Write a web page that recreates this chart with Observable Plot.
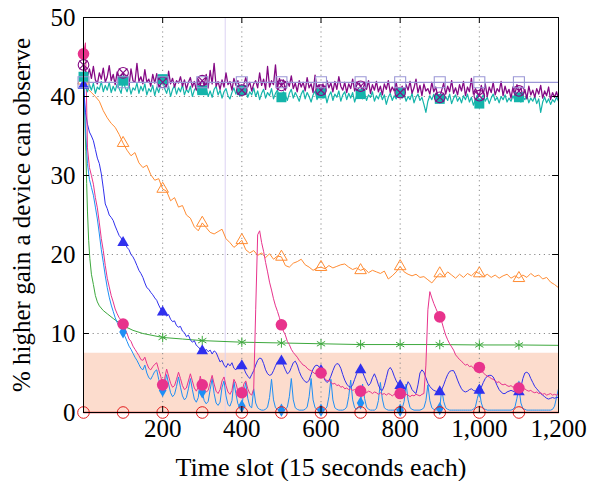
<!DOCTYPE html>
<html><head><meta charset="utf-8">
<script src="https://cdn.jsdelivr.net/npm/d3@7"></script>
<script src="https://cdn.jsdelivr.net/npm/@observablehq/plot@0.6"></script>
<style>body{margin:0;background:#fff}</style>
</head><body><div id="chart"></div>
<script>
// ---- data ----
const xTitle = "Time slot (15 seconds each)";
const yTitle = "% higher gain a device can observe";
const xTicks = [200, 400, 600, 800, 1000, 1200];
const yTicks = [0, 10, 20, 30, 40, 50];
const gridX = [200, 400, 600, 800, 1000];
const gridY = [10, 20, 30, 40];
const bandTop = [7.5];
const markerSlot = [358];

// sampled every 5 time slots (0..1200)
const purpleY = [
44.0,43.2,42.6,43.5,42.3,43.8,42.1,41.6,43.0,42.2,43.6,41.8,42.5,43.9,42.0,42.8,41.5,43.1,42.2,42.6,
43.0,42.0,42.7,41.4,43.5,42.0,41.8,44.2,41.9,42.5,41.6,43.4,41.8,42.2,41.3,42.8,41.7,42.9,41.5,42.4,
41.8,42.6,41.4,43.2,41.6,42.3,41.2,42.0,41.7,42.5,41.3,42.1,40.9,41.8,42.4,41.2,41.9,40.8,42.2,41.5,
42.0,41.4,42.8,41.1,43.3,41.6,44.2,41.3,41.9,40.9,42.1,41.2,43.0,41.5,41.9,40.8,42.3,41.4,42.0,41.0,
40.8,41.5,42.4,41.2,41.8,40.7,41.6,42.0,41.1,43.0,41.4,42.2,40.9,43.8,41.2,42.0,41.5,44.0,41.0,42.3,
41.4,42.1,40.8,41.9,41.3,42.6,41.0,41.7,40.6,42.0,41.2,41.8,40.7,42.4,41.1,41.6,40.5,42.7,41.0,41.5,
40.8,41.6,40.4,42.0,41.1,41.7,40.6,41.9,40.9,42.5,41.3,40.8,41.8,40.5,41.6,41.0,42.2,40.7,41.4,41.9,
41.3,40.6,41.7,40.9,42.0,40.4,41.5,40.8,41.9,40.6,41.3,40.2,41.6,40.9,42.0,40.5,41.2,40.7,41.8,40.3,
40.5,41.3,40.2,41.5,40.8,41.9,40.4,41.1,42.2,40.5,41.4,40.1,41.6,40.7,41.0,40.3,41.8,40.6,41.2,40.0,
39.9,40.8,41.7,40.3,41.3,40.6,42.0,40.4,41.1,40.2,41.5,40.7,41.9,40.1,41.2,40.6,42.3,40.3,41.0,40.5,
40.1,41.4,40.3,41.6,40.0,41.2,40.5,41.8,40.2,41.0,40.6,41.9,40.1,41.3,40.4,40.9,39.8,41.2,40.3,41.5,
40.7,41.1,40.0,40.9,39.7,41.3,40.2,40.8,39.9,41.0,40.3,41.4,39.8,40.7,40.1,41.2,39.6,40.5,39.9,40.6,
39.7];

const tealY = [
42.5,41.2,40.6,41.5,40.8,41.7,40.4,41.2,40.9,41.9,40.6,41.4,40.8,41.8,40.5,41.3,40.7,41.6,41.0,40.4,
42.0,41.2,40.6,41.5,40.3,41.1,40.8,41.7,40.4,41.3,40.7,41.6,40.2,41.0,40.6,41.4,40.1,41.2,40.5,41.5,
42.2,41.0,40.4,41.3,40.0,40.9,41.4,40.3,41.1,40.6,41.5,40.2,40.9,40.5,41.3,40.0,40.8,41.2,40.3,41.0,
40.8,40.4,41.1,40.0,40.7,39.9,40.9,41.3,40.2,40.8,39.8,40.6,41.0,40.1,39.7,40.5,41.1,40.3,40.9,40.0,
40.8,40.2,41.0,39.9,40.6,40.2,41.1,40.0,40.7,39.6,40.4,40.9,39.8,40.5,40.1,41.0,39.7,40.4,40.8,39.9,
39.9,40.6,40.2,39.5,40.4,40.9,39.8,40.5,40.0,39.4,40.3,40.8,39.7,40.5,40.0,39.3,40.2,40.7,39.6,40.4,
40.4,39.8,40.5,39.2,40.1,40.6,39.5,40.3,39.9,40.7,39.4,40.2,40.6,39.6,40.4,39.8,40.5,39.3,40.1,40.6,
40.3,39.7,40.4,39.5,40.2,39.9,40.6,39.4,40.1,39.7,40.5,39.6,40.2,39.0,39.9,40.4,39.5,40.1,39.7,40.4,
40.5,39.8,40.3,39.4,40.0,39.6,40.4,39.2,39.9,40.3,39.5,39.9,39.0,38.0,39.4,40.1,39.6,40.3,39.3,40.0,
39.7,40.2,39.4,40.0,39.5,40.3,39.1,39.8,40.2,39.4,39.9,39.2,40.1,39.6,40.3,39.3,39.9,38.9,39.6,40.2,
39.1,39.7,40.2,39.4,39.9,39.1,39.8,40.3,39.5,39.9,39.2,40.0,39.6,40.2,39.3,39.8,39.4,40.1,39.5,39.9,
39.9,39.3,40.0,39.6,40.2,39.2,39.8,39.4,40.0,39.1,39.7,38.0,39.3,39.9,39.2,39.7,39.0,39.6,39.3,39.9,
39.4];

const blueY = [
41.4,38.0,36.5,35.5,35.0,34.4,33.3,32.2,31.5,30.2,28.4,26.4,25.8,25.0,24.7,24.3,23.6,23.0,22.4,22.1,
21.5,21.4,20.9,20.6,20.0,19.7,19.2,18.6,18.0,17.6,17.1,16.4,15.8,15.6,15.2,14.9,14.5,14.2,13.6,13.1,
12.7,12.6,12.2,12.4,11.8,11.5,11.6,11.0,10.8,10.9,10.3,10.1,9.6,9.8,9.2,8.9,9.1,8.5,8.3,8.0,
7.8,7.6,8.0,7.7,7.9,7.4,7.8,7.6,7.0,6.4,6.6,6.0,5.7,6.2,5.9,6.3,5.6,5.4,5.9,6.2,
5.9,5.6,5.0,4.6,4.3,4.8,5.3,6.0,6.6,6.9,6.8,6.2,5.4,4.9,4.7,4.8,5.3,5.9,6.4,6.6,
6.5,6.0,5.4,4.9,5.1,5.7,6.3,6.5,6.0,5.2,4.6,4.2,3.9,3.8,4.1,4.8,5.5,5.9,6.0,5.8,
5.3,4.7,4.1,3.8,4.0,4.6,5.3,5.9,6.2,6.1,5.6,4.8,4.1,3.6,3.3,3.2,3.5,4.2,4.9,5.3,
5.4,5.1,4.5,3.9,3.4,3.7,4.4,4.9,4.3,3.5,2.9,2.8,3.4,4.4,5.4,5.7,5.3,4.6,4.0,3.6,
3.4,3.0,2.7,3.2,3.9,3.5,2.9,2.6,2.4,3.5,5.0,5.4,5.1,4.4,3.7,3.3,3.0,2.8,2.7,2.6,
2.6,2.9,3.5,4.2,4.8,5.2,5.3,5.3,4.8,4.1,3.5,3.0,2.7,2.6,2.7,2.9,3.0,2.8,2.7,2.7,
2.8,3.2,3.8,4.3,4.6,4.7,4.7,4.5,4.0,3.4,2.9,2.6,2.4,2.4,2.6,2.7,2.8,2.7,2.6,2.5,
2.6,3.2,4.3,5.0,5.1,4.9,4.3,3.8,3.3,3.0,2.7,2.4,2.2,2.0,1.8,1.7,1.8,1.9,1.8,1.9,
1.9];

const lightBlueY = [
42.5,36.0,31.5,29.5,28.5,27.5,26.0,24.5,22.6,20.6,19.0,17.3,15.8,14.6,13.6,12.8,12.0,11.4,10.9,10.6,
10.2,9.6,9.0,8.4,8.0,7.5,7.0,6.6,6.1,5.6,5.4,6.0,5.0,4.4,4.2,4.7,5.2,5.4,4.2,3.3,
2.8,3.4,4.8,3.6,2.5,2.0,2.3,3.3,4.5,3.2,2.1,1.6,1.9,3.0,4.3,2.9,1.7,1.3,1.9,4.2,
2.6,1.5,1.1,1.4,2.9,4.3,2.4,1.2,0.9,1.3,3.2,4.0,2.1,1.0,0.8,1.5,3.9,2.4,1.1,0.7,
0.8,2.6,3.8,1.8,0.8,0.6,3.0,1.2,0.6,0.4,0.3,0.3,0.4,0.7,1.9,4.2,1.6,0.6,0.4,0.3,
0.3,0.3,0.4,0.7,2.0,4.3,1.6,0.6,0.4,0.3,0.3,0.3,0.4,0.7,2.0,4.3,1.6,0.6,0.4,0.3,
0.3,0.3,0.4,0.7,2.0,4.2,1.6,0.6,0.4,0.3,0.3,0.3,0.4,0.7,2.0,4.1,1.6,0.6,0.4,0.6,
1.2,3.6,1.8,0.7,0.4,0.3,0.3,0.3,0.5,1.5,3.8,1.7,0.6,0.4,0.3,0.3,0.3,0.3,0.4,0.3,
0.3,0.5,1.4,3.6,1.6,0.6,0.4,0.3,0.3,0.3,0.3,0.4,0.6,1.5,3.5,1.5,0.6,0.4,0.3,0.4,
0.5,3.0,1.4,0.6,0.4,0.3,0.3,0.3,0.3,0.3,0.3,0.3,0.3,0.3,0.3,0.3,0.3,0.4,0.7,1.8,
2.8,1.2,0.5,0.4,0.3,0.3,0.3,0.3,0.3,0.3,0.3,0.3,0.3,0.3,0.3,0.3,0.3,0.4,0.7,1.8,
3.2,1.2,0.5,0.4,0.3,0.3,0.3,0.3,0.3,0.3,0.3,0.3,0.3,0.3,0.3,0.3,0.3,0.4,0.8,1.9,
3.0];

const magentaY = [
45.4,46.8,33.5,31.0,30.0,28.9,27.2,25.9,24.0,22.0,20.5,18.6,17.0,15.9,14.8,14.0,13.1,12.5,12.0,11.7,
11.2,10.6,10.0,9.3,9.0,8.4,8.0,7.6,7.2,6.7,6.6,7.0,6.2,5.6,5.4,5.8,6.1,6.3,5.4,4.6,
3.5,4.3,5.5,4.6,3.7,3.2,3.4,4.2,5.1,4.3,3.4,2.9,3.1,4.0,4.9,4.0,3.1,2.7,3.2,4.6,
3.5,3.0,2.6,2.8,3.8,4.7,3.6,2.7,2.4,2.9,4.0,4.5,3.4,2.6,2.3,2.8,4.2,3.7,2.7,2.2,
2.5,3.6,4.0,3.0,2.4,2.2,3.0,13.0,22.5,23.0,21.5,20.4,19.0,17.8,16.5,15.5,14.4,13.5,12.8,12.0,
11.1,10.3,9.8,9.0,8.6,8.0,7.6,7.3,7.0,6.6,6.3,6.0,5.9,5.6,5.4,5.3,5.1,4.9,5.1,4.8,
5.0,4.5,4.3,4.0,4.1,3.8,3.6,3.7,3.4,3.5,3.2,3.3,3.0,3.1,2.9,3.0,2.8,2.9,2.7,2.8,
2.7,2.6,2.8,2.5,2.7,2.6,2.4,2.6,2.5,2.3,2.5,2.3,2.4,2.2,2.4,2.3,2.1,2.3,2.2,2.3,
2.4,2.2,2.1,2.3,2.2,2.0,2.2,2.1,2.3,2.2,2.1,2.3,2.4,6.0,13.0,15.3,14.5,13.8,13.2,12.6,
12.1,11.5,10.6,9.8,9.2,8.7,8.3,7.9,7.3,7.0,6.7,6.5,6.2,6.0,6.1,5.8,5.9,5.6,5.7,5.8,
5.7,5.4,5.0,4.8,4.6,4.5,4.3,4.2,4.0,3.8,3.9,3.6,3.5,3.6,3.4,3.3,3.4,3.2,3.3,3.1,
3.1,3.0,2.9,3.0,2.8,2.7,2.8,2.6,2.5,2.6,2.4,2.5,2.3,2.4,2.2,2.3,2.4,2.2,2.3,2.2,
2.4];

// sampled every 10 time slots
const orangeY = [
42.0,41.0,40.5,40.0,39.4,38.2,37.3,36.6,36.1,35.2,
34.1,33.2,32.5,32.9,31.6,31.0,31.3,30.1,29.4,29.6,
28.3,28.0,26.8,27.2,26.0,26.2,25.0,24.6,23.5,23.0,
24.0,23.4,22.8,22.6,22.9,23.2,22.0,21.5,20.9,21.3,
21.8,20.6,20.2,20.5,19.9,20.2,19.6,20.1,19.4,19.8,
19.7,18.6,18.4,18.9,19.1,19.4,18.7,18.4,18.0,18.3,
18.4,18.2,18.6,18.3,18.5,18.7,18.8,18.4,18.1,18.3,
18.0,18.2,17.7,18.0,17.8,17.6,17.9,16.9,17.3,17.8,
18.5,17.8,17.5,17.3,17.5,17.1,17.2,16.8,16.4,17.0,
17.6,17.2,17.8,17.4,17.0,17.5,17.1,17.6,17.3,17.8,
17.6,17.2,17.5,17.1,17.4,17.0,17.3,17.5,17.0,17.3,
17.0,17.4,17.1,17.6,17.2,17.4,16.9,17.1,16.5,16.2,
15.8];

// irregularly sampled
const greenX = [0,2,4,6,8,10,13,16,20,25,30,35,40,50,60,75,100,125,150,200,250,300,400,500,600,700,800,900,1000,1100,1200];
const greenY = [45.4,40,36,33,29,25.5,21.8,19.5,17.5,16.2,14.8,14.0,13.5,12.9,12.5,11.9,11.0,10.4,10.0,9.5,9.3,9.1,8.9,8.8,8.7,8.6,8.6,8.6,8.55,8.55,8.5];
const flatX = [0,100,200,300,400,500,600,700,800,900,1000,1100,1200];
const lavenderY = [41.8,41.8,41.8,41.8,41.8,41.8,41.8,41.8,41.8,41.8,41.8,41.8,41.8];
const redY = [0,0,0,0,0,0,0,0,0,0,0,0,0];

// ---- build tables ----
const stepRows = (arr, step) => arr.map((y, i) => ({x: i * step, y}));
const xyRows = (xs, ys) => xs.map((x, i) => ({x, y: ys[i]}));
const markRows = d => d.filter(p => p.x % 100 === 0 && p.x < 1200);

const purple = stepRows(purpleY, 5);
const teal = stepRows(tealY, 5);
const blue = stepRows(blueY, 5);
const lightBlue = stepRows(lightBlueY, 5);
const magenta = stepRows(magentaY, 5);
const orange = stepRows(orangeY, 10);
const green = xyRows(greenX, greenY);
const lavender = xyRows(flatX, lavenderY);
const red = xyRows(flatX, redY);

const C = {
  purple: "#850a85", teal: "#14b4aa", lavender: "#9b97d6", orange: "#ff8c33",
  green: "#3da83d", blue: "#3030ee", lightBlue: "#1e8ff5", magenta: "#e8338c", red: "#e31a1c"
};

const [x0, x1] = [0, 1200];
const [y0, y1] = [0, 50];
const tickLenX = 15, tickLenY = 0.75;

const chart = Plot.plot({
  width: 598, height: 481,
  marginLeft: 83, marginRight: 40, marginTop: 17, marginBottom: 69,
  x: {domain: [x0, x1]},
  y: {domain: [y0, y1]},
  style: {fontFamily: "'Liberation Serif', 'DejaVu Serif', serif", fontSize: "25px", color: "#000", background: "#fff"},
  marks: [
    Plot.rect(bandTop, {x1: () => x0, x2: () => x1, y1: () => y0, y2: d => d, fill: "#fcdccd"}),
    Plot.ruleX(gridX, {stroke: "#8a8a8a", strokeDasharray: "1.2,3.6"}),
    Plot.ruleY(gridY, {stroke: "#8a8a8a", strokeDasharray: "1.2,3.6"}),
    Plot.ruleX(markerSlot, {stroke: "#dcd2f3", strokeWidth: 1}),

    Plot.line(green, {x: "x", y: "y", stroke: C.green, strokeWidth: 1}),
    Plot.line(orange, {x: "x", y: "y", stroke: C.orange, strokeWidth: 1}),
    Plot.line(lightBlue, {x: "x", y: "y", stroke: C.lightBlue, strokeWidth: 1}),
    Plot.line(blue, {x: "x", y: "y", stroke: C.blue, strokeWidth: 1}),
    Plot.line(magenta, {x: "x", y: "y", stroke: C.magenta, strokeWidth: 1}),
    Plot.line(teal, {x: "x", y: "y", stroke: C.teal, strokeWidth: 1.2}),
    Plot.line(purple, {x: "x", y: "y", stroke: C.purple, strokeWidth: 1.3}),
    Plot.line(lavender, {x: "x", y: "y", stroke: C.lavender, strokeWidth: 1.2}),

    Plot.dot(markRows(green), {x: "x", y: "y", symbol: "asterisk", r: 4.5, stroke: C.green, strokeWidth: 1}),
    Plot.dot(markRows(orange), {x: "x", y: "y", symbol: "triangle", r: 4.3, stroke: C.orange, fill: "none", strokeWidth: 1}),
    Plot.dot(markRows(lightBlue), {x: "x", y: "y", symbol: "diamond", r: 4, fill: C.lightBlue, stroke: "none"}),
    Plot.dot(markRows(blue), {x: "x", y: "y", symbol: "triangle", r: 4.3, fill: C.blue, stroke: "none"}),
    Plot.dot(markRows(magenta), {x: "x", y: "y", r: 5.8, fill: C.magenta, stroke: "none"}),
    Plot.dot(markRows(teal), {x: "x", y: "y", symbol: "square", r: 5.6, fill: C.teal, stroke: "none"}),
    Plot.dot(markRows(purple), {x: "x", y: "y", r: 5.3, fill: "none", stroke: C.purple, strokeWidth: 1.1}),
    Plot.dot(markRows(purple), {x: "x", y: "y", symbol: "times", r: 4, stroke: C.purple, strokeWidth: 1.1}),
    Plot.dot(markRows(lavender), {x: "x", y: "y", symbol: "square", r: 6.2, fill: "none", stroke: C.lavender, strokeWidth: 1.1}),

    Plot.line(red, {x: "x", y: "y", stroke: C.red, strokeWidth: 1.3}),
    Plot.dot(markRows(red), {x: "x", y: "y", r: 5.8, fill: "none", stroke: C.red, strokeWidth: 1}),

    Plot.frame({stroke: "#000", strokeWidth: 1}),
    Plot.ruleX(gridX, {y1: () => y0, y2: () => y0 + tickLenY, stroke: "#000"}),
    Plot.ruleX(gridX, {y1: () => y1, y2: () => y1 - tickLenY, stroke: "#000"}),
    Plot.ruleY(gridY, {x1: () => x0, x2: () => x0 + tickLenX, stroke: "#000"}),
    Plot.ruleY(gridY, {x1: () => x1, x2: () => x1 - tickLenX, stroke: "#000"}),

    Plot.axisX({ticks: xTicks, tickFormat: d3.format(","), tickSize: 0, tickPadding: 7, label: null}),
    Plot.axisY({ticks: yTicks, tickSize: 0, tickPadding: 8, label: null}),
    Plot.text([xTitle], {text: d => d, frameAnchor: "bottom", dy: 55, fontSize: 26, lineAnchor: "middle", textAnchor: "middle"}),
    Plot.text([yTitle], {text: d => d, frameAnchor: "left", dx: -62, rotate: -90, fontSize: 25, lineAnchor: "middle", textAnchor: "middle"})
  ]
});
document.getElementById("chart").appendChild(chart);
</script>
</body></html>
